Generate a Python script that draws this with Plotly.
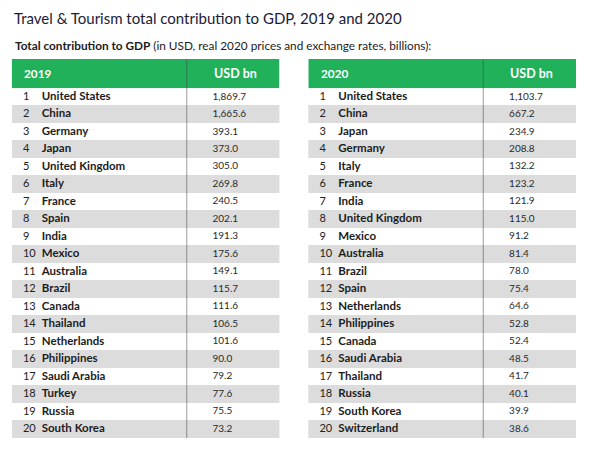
import plotly.graph_objects as go

title = "Travel & Tourism total contribution to GDP, 2019 and 2020"
subtitle_bold = "Total contribution to GDP"
subtitle_rest = " (in USD, real 2020 prices and exchange rates, billions):"

ranks = list(range(1, 21))
countries_2019 = ["United States", "China", "Germany", "Japan", "United Kingdom", "Italy",
                  "France", "Spain", "India", "Mexico", "Australia", "Brazil", "Canada",
                  "Thailand", "Netherlands", "Philippines", "Saudi Arabia", "Turkey",
                  "Russia", "South Korea"]
values_2019 = [1869.7, 1665.6, 393.1, 373.0, 305.0, 269.8, 240.5, 202.1, 191.3, 175.6,
               149.1, 115.7, 111.6, 106.5, 101.6, 90.0, 79.2, 77.6, 75.5, 73.2]
countries_2020 = ["United States", "China", "Japan", "Germany", "Italy", "France", "India",
                  "United Kingdom", "Mexico", "Australia", "Brazil", "Spain", "Netherlands",
                  "Philippines", "Canada", "Saudi Arabia", "Thailand", "Russia",
                  "South Korea", "Switzerland"]
values_2020 = [1103.7, 667.2, 234.9, 208.8, 132.2, 123.2, 121.9, 115.0, 91.2, 81.4,
               78.0, 75.4, 64.6, 52.8, 52.4, 48.5, 41.7, 40.1, 39.9, 38.6]
headers_2019 = ["2019", "USD bn"]
headers_2020 = ["2020", "USD bn"]

GREEN = "#21b15b"
STRIPE = "#dcdcdc"
FONT = "Lato"
OFF = 8                          # browser body margin
W, H = 600 - 2 * OFF, 450 - 2 * OFF
TABLE_W = 267.7                  # table width in x-axis units (px)
RANK_X, NAME_X, VAL_X, DIV_X = 11.2, 30, 200.8, 175


def px_x(v):
    return (v - OFF) / W


def px_y(v):
    return 1 - (v - OFF) / H


row_fill = ["white" if r % 2 == 1 else STRIPE for r in ranks]

fig = go.Figure()
tables = [("x", headers_2019, countries_2019, values_2019, 11.7),
          ("x2", headers_2020, countries_2020, values_2020, 308.3)]

for xa, headers, countries, values, x0 in tables:
    fig.add_trace(go.Bar(
        orientation="h", y=ranks, x=[TABLE_W] * len(ranks), base=0, width=1,
        marker=dict(color=row_fill, line=dict(width=0)),
        xaxis=xa, yaxis="y", hoverinfo="skip", showlegend=False))
    fig.add_trace(go.Scatter(
        x=[RANK_X] * len(ranks), y=ranks, mode="text", text=[str(r) for r in ranks],
        textposition="middle right", textfont=dict(family=FONT, size=11, color="#222"),
        xaxis=xa, yaxis="y", hoverinfo="skip", showlegend=False))
    fig.add_trace(go.Scatter(
        x=[NAME_X] * len(ranks), y=ranks, mode="text", text=countries,
        textposition="middle right",
        textfont=dict(family=FONT, size=11.5, color="#1c1c1c", weight="bold"),
        xaxis=xa, yaxis="y", hoverinfo="skip", showlegend=False))
    fig.add_trace(go.Scatter(
        x=[VAL_X] * len(values), y=ranks, mode="text", text=[f"{v:,.1f}" for v in values],
        textposition="middle right", textfont=dict(family=FONT, size=10, color="#2a2a2a"),
        xaxis=xa, yaxis="y", hoverinfo="skip", showlegend=False))

axis_common = dict(range=[0, TABLE_W], showgrid=False, zeroline=False,
                   showticklabels=False, ticks="", showline=False, fixedrange=True)

shapes = []
annotations = [
    dict(text=title, xref="paper", yref="paper", x=px_x(12), y=px_y(18),
         xanchor="left", yanchor="middle", showarrow=False,
         font=dict(family=FONT, size=15, color="#1a2036")),
    dict(text=f"<b>{subtitle_bold}</b>{subtitle_rest}", xref="paper", yref="paper",
         x=px_x(12.5), y=px_y(46), xanchor="left", yanchor="middle", showarrow=False,
         font=dict(family=FONT, size=11.8, color="#1b1b1b")),
]
for xa, headers, countries, values, x0 in tables:
    shapes.append(dict(type="rect", xref=xa, yref="paper", x0=0, x1=TABLE_W,
                       y0=px_y(88.3), y1=px_y(59), fillcolor=GREEN, line=dict(width=0),
                       layer="below"))
    shapes.append(dict(type="line", xref=xa, yref="paper", x0=DIV_X, x1=DIV_X,
                       y0=px_y(438), y1=px_y(59),
                       line=dict(color="rgba(70,70,70,0.45)", width=1.2), layer="above"))
    for hx, htxt, hs in zip([RANK_X, VAL_X], headers, [11.8, 12.5]):
        annotations.append(dict(text=f"<b>{htxt}</b>", xref=xa, yref="paper", x=hx,
                                y=px_y(73.5), xanchor="left", yanchor="middle",
                                showarrow=False, xshift=-1,
                                font=dict(family=FONT, size=hs, color="white")))

fig.update_layout(
    width=W, height=H,
    margin=dict(l=0, r=0, t=0, b=0),
    paper_bgcolor="white", plot_bgcolor="white",
    bargap=0, barmode="overlay",
    xaxis=dict(domain=[px_x(11.7), px_x(11.7 + TABLE_W)], anchor="y", **axis_common),
    xaxis2=dict(domain=[px_x(308.3), px_x(308.3 + TABLE_W)], anchor="y", **axis_common),
    yaxis=dict(domain=[px_y(438), px_y(88.3)], range=[20.5, 0.5], showgrid=False,
               zeroline=False, showticklabels=False, ticks="", fixedrange=True),
    shapes=shapes, annotations=annotations,
)

fig.write_html("out.html")
